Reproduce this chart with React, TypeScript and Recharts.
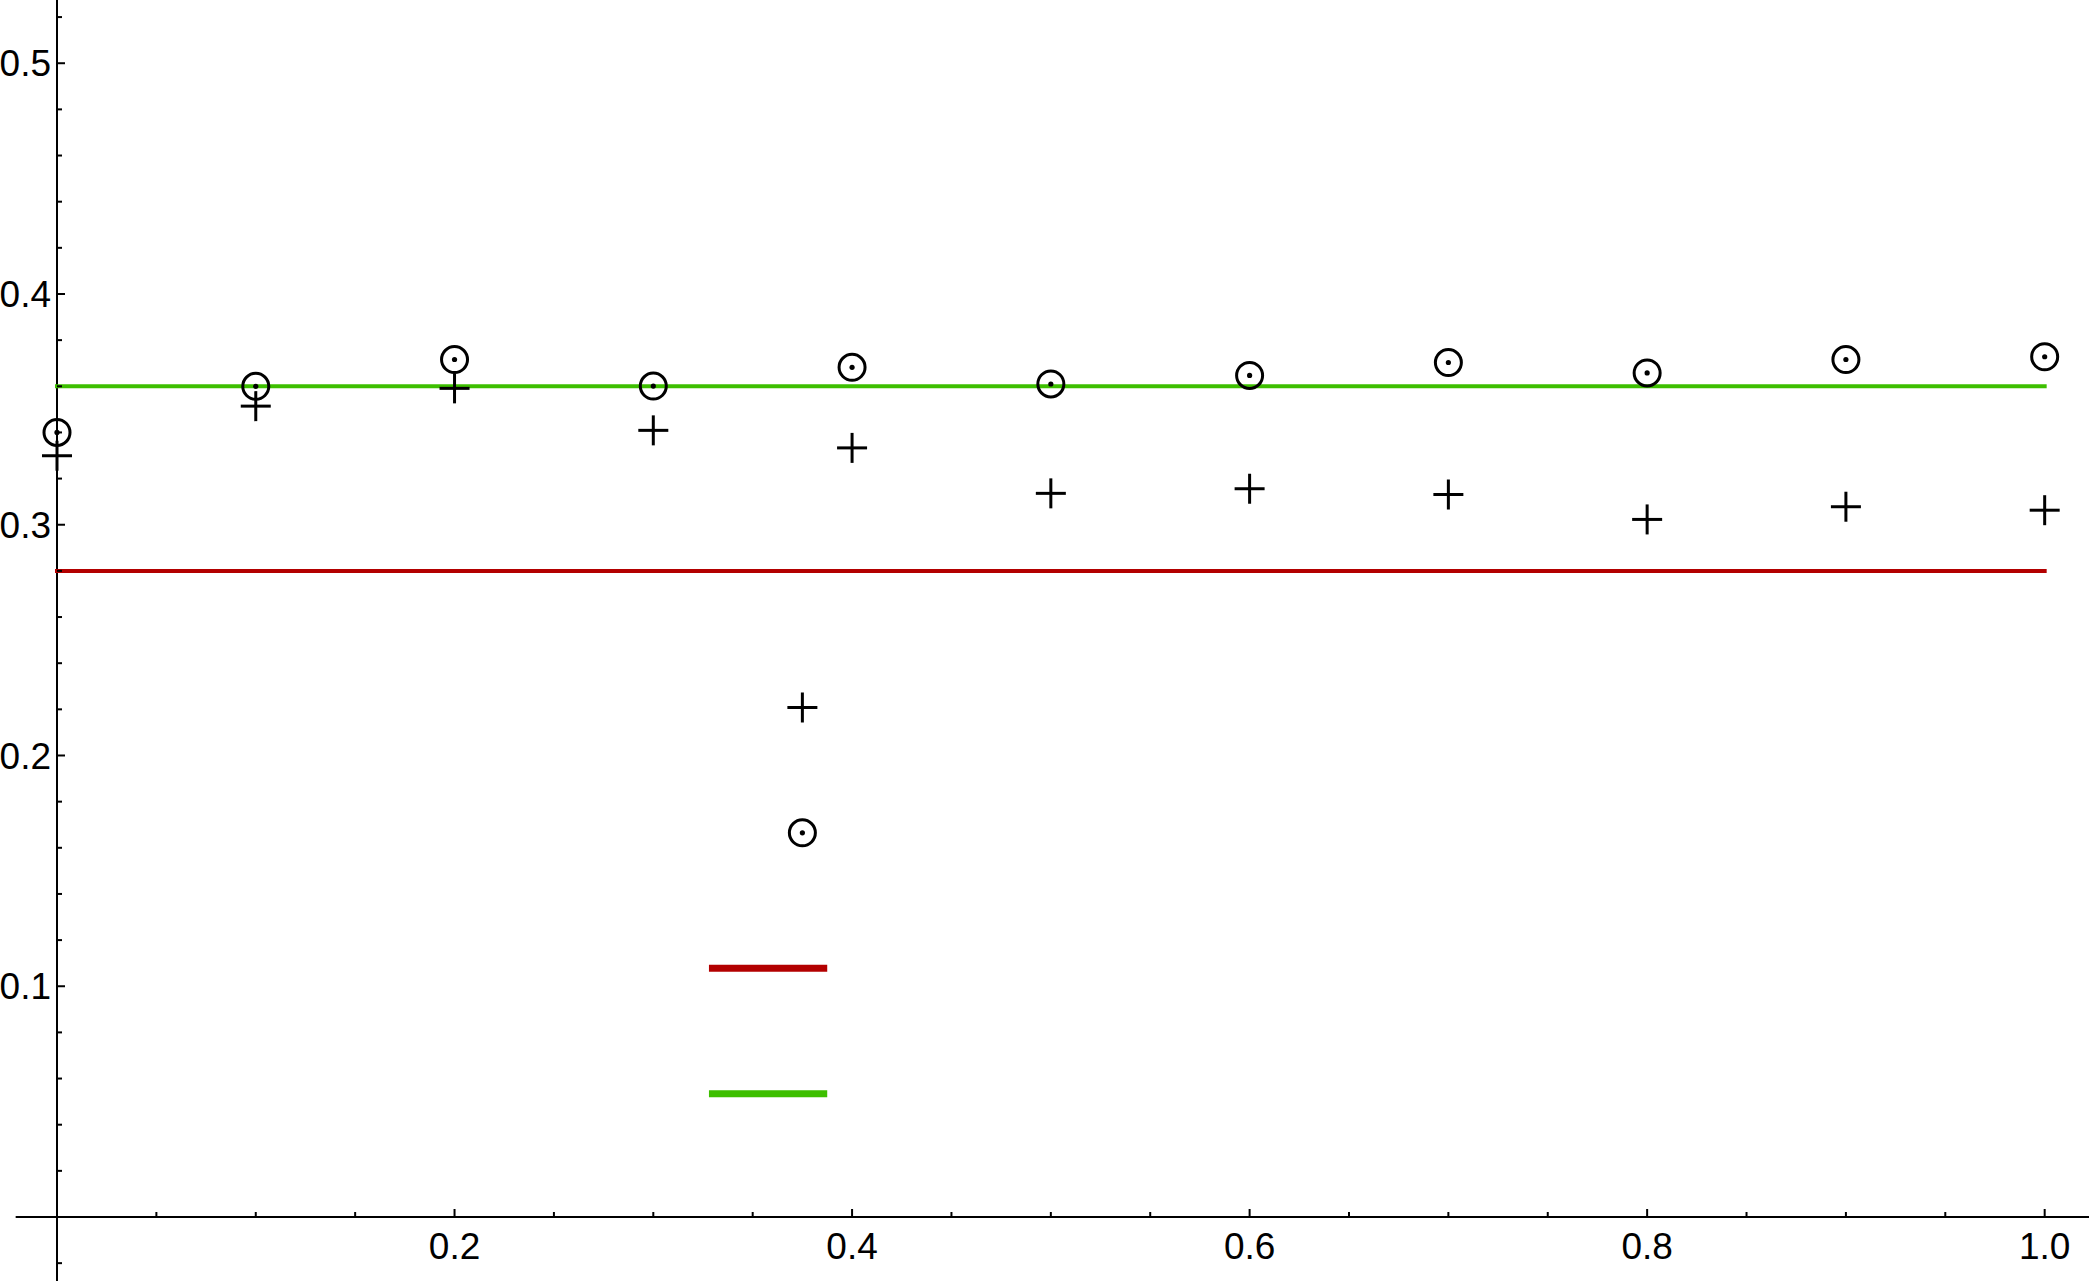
import { ComposedChart, XAxis, YAxis, Line, Scatter, ReferenceLine } from "recharts";

// sample positions
const xs = [0, 0.1, 0.2, 0.3, 0.4, 0.5, 0.6, 0.7, 0.8, 0.9, 1.0];
// circled-dot series
const circleValues = [0.34, 0.36, 0.3716, 0.3601, 0.3682, 0.361, 0.3647, 0.3703, 0.3658, 0.3716, 0.3728];
// plus series
const plusValues = [0.3299, 0.3514, 0.3591, 0.3409, 0.3333, 0.3136, 0.3156, 0.3131, 0.3023, 0.3078, 0.3063];
// the lone point off the grid
const extraX = 0.375;
const extraCircle = 0.1665;
const extraPlus = 0.2208;

// horizontal reference levels
const greenLevel = 0.36;
const redLevel = 0.28;
const levelSpan = [0, 1.0];

// the two short key strokes
const keySpan = [0.328, 0.3875];
const keyRed = 0.1078;
const keyGreen = 0.0534;

const xTicks = [0.05, 0.1, 0.15, 0.2, 0.25, 0.3, 0.35, 0.4, 0.45, 0.5, 0.55, 0.6, 0.65, 0.7, 0.75, 0.8, 0.85, 0.9, 0.95, 1.0];
const xLabels = [0.2, 0.4, 0.6, 0.8, 1.0];
const yTicks = [-0.02, 0.02, 0.04, 0.06, 0.08, 0.1, 0.12, 0.14, 0.16, 0.18, 0.2, 0.22, 0.24, 0.26, 0.28, 0.3, 0.32, 0.34, 0.36, 0.38, 0.4, 0.42, 0.44, 0.46, 0.48, 0.5, 0.52];
const yLabels = [0.1, 0.2, 0.3, 0.4, 0.5];

const xDomain = [0, 1.0223];
const yDomain = [0, 0.5274];
const xAxisReach = [-0.0208, 1.0223];
const yAxisReach = [-0.0279, 0.5274];

const GREEN = "#3dbf00";
const RED = "#b30000";
const FONT = "'Liberation Sans', Arial, sans-serif";

const isLabel = (list: number[], v: number) => list.some((l) => Math.abs(l - v) < 1e-9);

const circles = xs.map((x, i) => ({ x, y: circleValues[i] })).concat([{ x: extraX, y: extraCircle }]);
const pluses = xs.map((x, i) => ({ x, y: plusValues[i] })).concat([{ x: extraX, y: extraPlus }]);
const greenLine = levelSpan.map((x) => ({ x, y: greenLevel }));
const redLine = levelSpan.map((x) => ({ x, y: redLevel }));
const keyRedLine = keySpan.map((x) => ({ x, y: keyRed }));
const keyGreenLine = keySpan.map((x) => ({ x, y: keyGreen }));

function XTick(props: any) {
  const { x, y, payload } = props;
  const major = isLabel(xLabels, payload.value);
  return (
    <g>
      <line x1={x} x2={x} y1={y} y2={y - (major ? 8 : 5)} stroke="#000" strokeWidth={2} />
      {major && (
        <text x={x} y={y + 41.6} textAnchor="middle" fontSize={37} fontFamily={FONT} fill="#000">
          {payload.value.toFixed(1)}
        </text>
      )}
    </g>
  );
}

function YTick(props: any) {
  const { x, y, payload } = props;
  const major = isLabel(yLabels, payload.value);
  return (
    <g>
      <line x1={x} x2={x + (major ? 8 : 5)} y1={y} y2={y} stroke="#000" strokeWidth={2} />
      {major && (
        <text x={x - 6} y={y + 13.2} textAnchor="end" fontSize={37} fontFamily={FONT} fill="#000">
          {payload.value.toFixed(1)}
        </text>
      )}
    </g>
  );
}

function CircleDot(props: any) {
  const { cx, cy } = props;
  return (
    <g>
      <circle cx={cx} cy={cy} r={13} fill="none" stroke="#000" strokeWidth={3} />
      <circle cx={cx} cy={cy} r={2.6} fill="#000" />
    </g>
  );
}

function PlusMark(props: any) {
  const { cx, cy } = props;
  return (
    <g stroke="#000" strokeWidth={3}>
      <line x1={cx - 15} x2={cx + 15} y1={cy} y2={cy} />
      <line x1={cx} x2={cx} y1={cy - 15} y2={cy + 15} />
    </g>
  );
}

export default function App() {
  return (
    <div style={{ position: "absolute", left: 0, top: 0, background: "#fff" }}>
      <ComposedChart width={2089} height={1281} margin={{ top: 0, right: 0, bottom: 0, left: 0 }}>
        <XAxis
          dataKey="x"
          type="number"
          domain={xDomain}
          ticks={xTicks}
          interval={0}
          height={64}
          axisLine={false}
          tickLine={false}
          tickSize={0}
          tickMargin={0}
          tick={<XTick />}
        />
        <YAxis
          type="number"
          domain={yDomain}
          ticks={yTicks}
          interval={0}
          width={57}
          axisLine={false}
          tickLine={false}
          tickSize={0}
          tickMargin={0}
          tick={<YTick />}
        />
        <ReferenceLine
          segment={[{ x: xAxisReach[0], y: 0 }, { x: xAxisReach[1], y: 0 }]}
          stroke="#000"
          strokeWidth={2}
          ifOverflow="visible"
        />
        <ReferenceLine
          segment={[{ x: 0, y: yAxisReach[0] }, { x: 0, y: yAxisReach[1] }]}
          stroke="#000"
          strokeWidth={2}
          ifOverflow="visible"
        />
        <Line data={greenLine} dataKey="y" stroke={GREEN} strokeWidth={4} dot={false} isAnimationActive={false} strokeLinecap="square" />
        <Line data={redLine} dataKey="y" stroke={RED} strokeWidth={4} dot={false} isAnimationActive={false} strokeLinecap="square" />
        <Line data={keyRedLine} dataKey="y" stroke={RED} strokeWidth={7} dot={false} isAnimationActive={false} />
        <Line data={keyGreenLine} dataKey="y" stroke={GREEN} strokeWidth={7} dot={false} isAnimationActive={false} />
        <Scatter data={circles} dataKey="y" shape={<CircleDot />} isAnimationActive={false} />
        <Scatter data={pluses} dataKey="y" shape={<PlusMark />} isAnimationActive={false} />
      </ComposedChart>
    </div>
  );
}
